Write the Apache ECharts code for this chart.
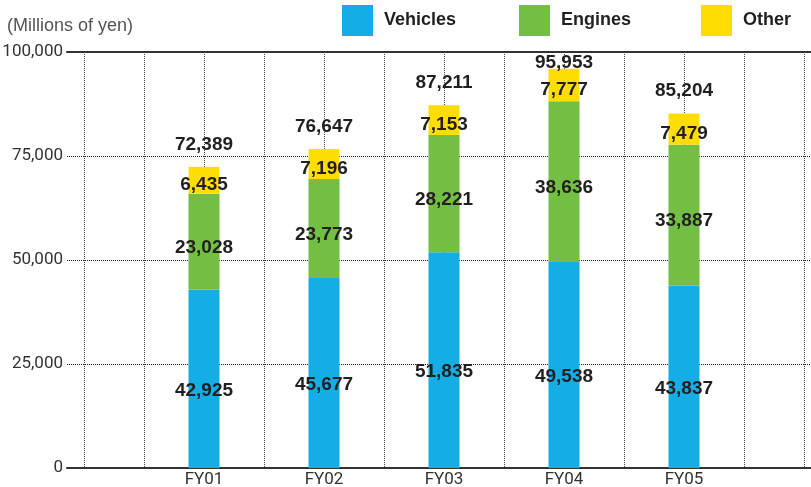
<!DOCTYPE html>
<html>
<head>
<meta charset="utf-8">
<script src="https://cdn.jsdelivr.net/npm/echarts@6/dist/echarts.min.js"></script>
<style>
  html, body { margin: 0; padding: 0; background: #fff; }
  #main { width: 811px; height: 487px; }
</style>
</head>
<body>
<div id="main"></div>
<script>
const years = ['FY01', 'FY02', 'FY03', 'FY04', 'FY05'];
const vehicles = [42925, 45677, 51835, 49538, 43837];
const engines = [23028, 23773, 28221, 38636, 33887];
const other = [6435, 7196, 7153, 7777, 7479];
const totals = [72389, 76647, 87211, 95953, 85204];
const yTicks = [0, 25000, 50000, 75000, 100000];

const chart = echarts.init(document.getElementById('main'));

// empty slot at both ends so bars sit on the dotted lines
const cats = [''].concat(years, ['']);
const pad = arr => [null].concat(arr, [null]);

const numFont = 'Roboto, Liberation Sans, sans-serif';
const boldFont = 'Liberation Sans, Arial, sans-serif';
const fmt = v => v.toLocaleString('en-US');

const segLabel = (extra) => Object.assign({
  show: true,
  position: 'inside',
  color: '#231f20',
  fontFamily: boldFont,
  fontWeight: 'bold',
  fontSize: 19,
  formatter: p => fmt(p.value)
}, extra || {});

const legendText = {
  color: '#231f20',
  fontFamily: boldFont,
  fontWeight: 'bold',
  fontSize: 18,
  padding: [3, 0, 0, 6]
};
const mkLegend = (name, left) => ({
  data: [name],
  left: left,
  top: 5,
  padding: 0,
  icon: 'rect',
  itemWidth: 31,
  itemHeight: 31,
  selectedMode: false,
  textStyle: legendText
});

const option = {
  animation: false,
  backgroundColor: '#fff',
  title: {
    text: '(Millions of yen)',
    left: 7,
    top: 17,
    padding: 0,
    textStyle: {
      color: '#555',
      fontFamily: boldFont,
      fontWeight: 'normal',
      fontSize: 18
    }
  },
  legend: [
    mkLegend('Vehicles', 342),
    mkLegend('Engines', 519),
    mkLegend('Other', 701)
  ],
  grid: [
    { left: 67, right: 0, top: 52, bottom: 19, outerBoundsMode: 'none' },
    { left: 84, right: 7, top: 52, bottom: 19, outerBoundsMode: 'none' }
  ],
  xAxis: [
    // frame: bottom axis line
    {
      type: 'value', gridIndex: 0, min: 0, max: 1,
      axisLine: { show: true, lineStyle: { color: '#333', width: 2 } },
      axisTick: { show: false }, axisLabel: { show: false }, splitLine: { show: false }
    },
    // frame: top line
    {
      type: 'value', gridIndex: 0, min: 0, max: 1, position: 'top',
      axisLine: { show: true, lineStyle: { color: '#333', width: 2 } },
      axisTick: { show: false }, axisLabel: { show: false }, splitLine: { show: false }
    },
    // bars
    {
      type: 'category', gridIndex: 1, data: cats, boundaryGap: false,
      axisLine: { show: false }, axisTick: { show: false },
      axisLabel: {
        color: '#333', fontFamily: numFont, fontSize: 17, margin: 3,
        interval: 0
      },
      splitLine: { show: false }
    },
    // vertical dotted lines every half slot
    {
      type: 'value', gridIndex: 1, min: 0, max: 12, interval: 1,
      axisLine: { show: false }, axisTick: { show: false }, axisLabel: { show: false },
      splitLine: { show: true, lineStyle: { color: '#444', type: 'dotted', width: 1 } }
    }
  ],
  yAxis: [
    {
      type: 'value', gridIndex: 0, min: 0, max: 100000, interval: 25000,
      axisLine: { show: false }, axisTick: { show: false },
      axisLabel: {
        color: '#333', fontFamily: numFont, fontSize: 17, margin: 4,
        formatter: v => yTicks.includes(v) ? fmt(v) : ''
      },
      splitLine: { show: true, lineStyle: { color: '#222', type: 'dotted', width: 1 } }
    },
    {
      type: 'value', gridIndex: 1, min: 0, max: 100000,
      axisLine: { show: false }, axisTick: { show: false }, axisLabel: { show: false },
      splitLine: { show: false }
    }
  ],
  series: [
    {
      name: 'Vehicles', type: 'bar', stack: 'sum', xAxisIndex: 2, yAxisIndex: 1,
      barWidth: 31, data: pad(vehicles),
      itemStyle: { color: '#14ade5' },
      label: segLabel({ offset: [0, 12] })
    },
    {
      name: 'Engines', type: 'bar', stack: 'sum', xAxisIndex: 2, yAxisIndex: 1,
      barWidth: 31, data: pad(engines),
      itemStyle: { color: '#72bf44' },
      label: segLabel({ offset: [0, 6] })
    },
    {
      name: 'Other', type: 'bar', stack: 'sum', xAxisIndex: 2, yAxisIndex: 1,
      barWidth: 31, data: pad(other),
      itemStyle: { color: '#ffdd00' },
      label: segLabel({ offset: [0, 5] })
    },
    {
      name: 'Total', type: 'bar', stack: 'sum', xAxisIndex: 2, yAxisIndex: 1,
      barWidth: 31,
      data: pad(totals.map(t => ({
        value: 0,
        label: { distance: t > 92000 ? -3 : 13 }
      }))),
      itemStyle: { color: 'transparent' },
      label: segLabel({
        position: 'top',
        formatter: p => fmt(totals[p.dataIndex - 1])
      })
    }
  ]
};

chart.setOption(option);
</script>
</body>
</html>
